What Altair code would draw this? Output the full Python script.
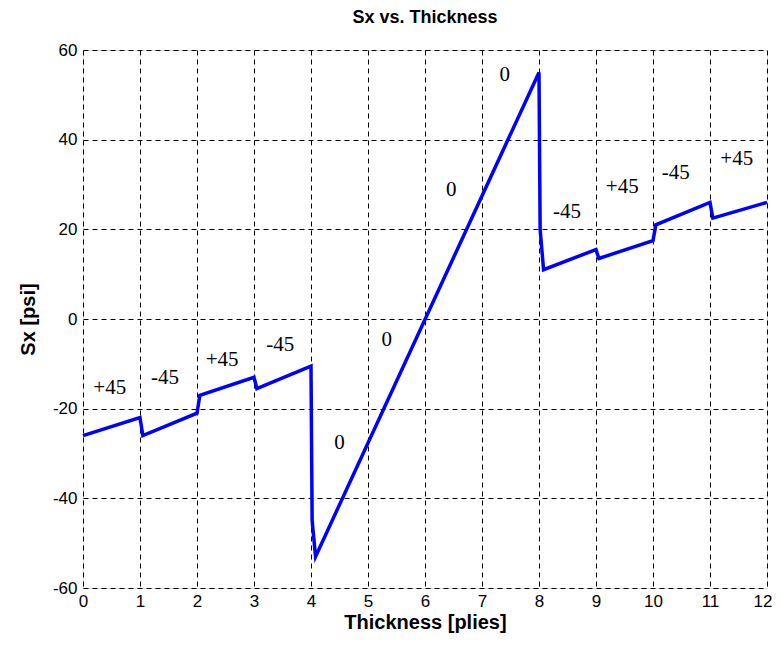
import altair as alt
import pandas as pd

# Line data (Thickness [plies], Sx [psi])
xs = [0, 1, 1.05, 2, 2.05, 3, 3.05, 4, 4.02, 4.08, 8, 8.02, 8.08, 9, 9.05, 10, 10.05, 11, 11.05, 12]
ys = [-26, -22, -26, -21, -17, -13, -15.5, -10.5, -45, -53, 55, 20, 11, 15.5, 13.5, 17.5, 21, 26, 22.5, 26]

# Ply angle annotations
lab_x = [0.47, 1.44, 2.44, 3.46, 4.5, 5.33, 6.46, 7.4, 8.49, 9.46, 10.4, 11.47]
lab_y = [-15.4, -13.1, -9.1, -5.8, -27.6, -4.7, 28.8, 54.4, 23.9, 29.4, 32.6, 35.7]
lab_t = ["+45", "-45", "+45", "-45", "0", "0", "0", "0", "-45", "+45", "-45", "+45"]

x_ticks = list(range(0, 13))
y_ticks = [-60, -40, -20, 0, 20, 40, 60]

line_df = pd.DataFrame({"x": xs, "y": ys, "i": range(len(xs))})
lab_df = pd.DataFrame({"x": lab_x, "y": lab_y, "t": lab_t})

xscale = alt.Scale(domain=[0, 12], nice=False, zero=False)
yscale = alt.Scale(domain=[-60, 60], nice=False, zero=False)

common = dict(grid=True, gridDash=[5, 4], gridColor="black", gridOpacity=1, gridWidth=1,
              ticks=False, domain=False, labelFlush=False,
              labelExpr="datum.value < 0 ? '-' + abs(datum.value) : '' + datum.value",
              labelFont="Liberation Sans", labelFontSize=17,
              labelColor="black",
              titleFont="Liberation Sans", titleFontSize=20,
              titleFontWeight="bold", titleColor="black")

xaxis = alt.Axis(values=x_ticks, title="Thickness [plies]", labelPadding=5,
                 titlePadding=3,
                 labelAlign={"condition": {"test": "datum.value == 12", "value": "right"},
                             "value": "center"},
                 labelOffset={"condition": {"test": "datum.value == 12", "value": 5},
                              "value": 0},
                 **common)
yaxis = alt.Axis(values=y_ticks, title="Sx [psi]", labelPadding=6,
                 titlePadding=14, **common)

line = alt.Chart(line_df).mark_line(color="#0000FF", strokeWidth=3.5).encode(
    x=alt.X("x:Q", scale=xscale, axis=xaxis),
    y=alt.Y("y:Q", scale=yscale, axis=yaxis),
    order="i:Q",
)

labels = alt.Chart(lab_df).mark_text(
    font="Liberation Serif", fontSize=21, color="black"
).encode(
    x=alt.X("x:Q", scale=xscale),
    y=alt.Y("y:Q", scale=yscale),
    text="t:N",
)

chart = (line + labels).properties(
    width=684, height=538,
    title=alt.TitleParams("Sx vs. Thickness", font="Liberation Sans", fontSize=18,
                          fontWeight="bold", color="black", offset=14),
    autosize=alt.AutoSizeParams(type="none"),
    padding={"left": 75, "top": 42, "right": 5, "bottom": 56},
).configure_view(stroke="#333333", strokeWidth=2).configure(background="white")

chart.save("out.html", embed_options={"renderer": "svg", "actions": False})
